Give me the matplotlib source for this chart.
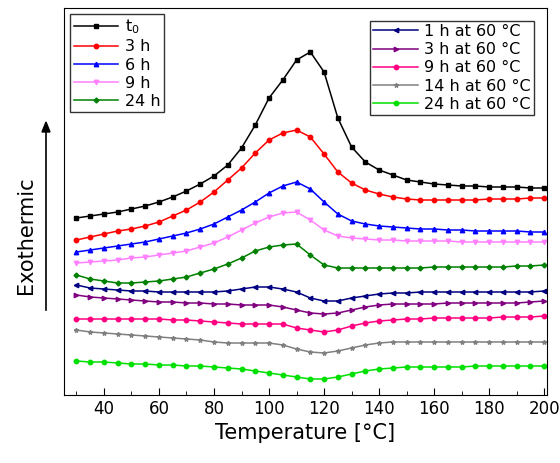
import matplotlib.pyplot as plt
import numpy as np

# temperature grid (°C) and curves (arb. units, screen-like: larger = lower)
temp = list(range(30, 201, 5))

t0 = [218, 216, 214, 212, 209, 206, 202, 197, 191, 184, 176, 165, 148, 125, 98, 80, 60, 52, 72, 118,
      147, 162, 170, 175, 180, 182, 184, 185, 186, 186, 187, 187, 187, 188, 188]
h3 = [240, 237, 234, 231, 229, 226, 222, 216, 210, 202, 192, 180, 168, 153, 140, 133, 130, 137, 154, 172,
      183, 190, 194, 197, 199, 200, 200, 200, 200, 200, 199, 199, 199, 198, 198]
h6 = [252, 250, 248, 246, 244, 242, 239, 236, 233, 229, 224, 217, 210, 202, 193, 186, 182, 189, 202, 214,
      221, 224, 226, 227, 228, 229, 229, 230, 230, 231, 231, 231, 231, 232, 232]
h9 = [263, 262, 261, 260, 258, 257, 255, 253, 251, 247, 243, 237, 230, 223, 217, 213, 212, 220, 230, 236,
      238, 239, 240, 240, 241, 241, 241, 241, 242, 242, 242, 242, 242, 242, 242]
h24 = [275, 279, 281, 283, 283, 282, 281, 279, 277, 273, 269, 264, 258, 251, 247, 245, 244, 255, 265, 268,
       268, 268, 268, 268, 268, 268, 267, 267, 267, 267, 267, 267, 266, 266, 265]
a1 = [285, 288, 289, 290, 291, 291, 292, 292, 292, 292, 292, 291, 289, 287, 287, 289, 292, 298, 301, 301,
      298, 296, 294, 293, 293, 292, 292, 292, 292, 292, 292, 292, 292, 292, 291]
a3 = [295, 297, 298, 299, 300, 301, 302, 302, 303, 303, 304, 304, 305, 305, 305, 307, 310, 313, 314, 313,
      310, 307, 305, 304, 304, 304, 304, 303, 303, 303, 303, 303, 303, 302, 301]
a9 = [319, 319, 319, 319, 319, 319, 319, 320, 320, 321, 322, 323, 324, 324, 324, 324, 328, 330, 332, 330,
      326, 323, 321, 320, 319, 319, 318, 318, 318, 318, 318, 317, 317, 317, 316]
a14 = [330, 332, 333, 334, 335, 336, 337, 338, 339, 340, 342, 343, 343, 343, 343, 345, 349, 352, 353, 351,
       348, 345, 343, 342, 342, 342, 342, 342, 342, 342, 342, 342, 342, 342, 342]
a24 = [361, 362, 362, 363, 364, 364, 365, 365, 366, 366, 367, 368, 369, 371, 373, 375, 377, 379, 379, 377,
       374, 371, 369, 368, 367, 367, 367, 367, 367, 366, 366, 366, 366, 366, 366]

series_left = [("$\\mathregular{t_0}$", t0, "black", "s"), ("3 h", h3, "red", "o"), ("6 h", h6, "blue", "^"),
               ("9 h", h9, "#ff80ff", "v"), ("24 h", h24, "#008000", "D")]
series_right = [("1 h at 60 °C", a1, "#000080", "<"), ("3 h at 60 °C", a3, "#800080", ">"),
                ("9 h at 60 °C", a9, "#ff0080", "o"), ("14 h at 60 °C", a14, "#808080", "*"),
                ("24 h at 60 °C", a24, "#00e000", "o")]

fig = plt.figure(figsize=(5.6, 4.63), dpi=100)
ax = fig.add_axes([64 / 560, 1 - 395 / 463, 483 / 560, 387 / 463])

h_left = []
for lab, y, c, m in series_left:
    ms = 2.5 if m == "D" else 3.2
    ln, = ax.plot(temp, y, color=c, marker=m, markersize=ms, linewidth=1.1, label=lab)
    h_left.append(ln)
h_right = []
for lab, y, c, m in series_right:
    ln, = ax.plot(temp, y, color=c, marker=m, markersize=3.2, linewidth=1.1, label=lab)
    h_right.append(ln)

ax.set_xlim(25.5, 201)
ax.set_ylim(395, 8)
ax.set_yticks([])
ax.set_xticks(range(40, 201, 20))
ax.set_xticks(range(30, 201, 10), minor=True)
ax.tick_params(axis='x', direction='in', labelsize=12, length=5)
ax.tick_params(axis='x', which='minor', direction='in', length=3)
ax.set_xlabel("Temperature [°C]", fontsize=15)

leg1 = ax.legend(handles=h_left, loc='upper left', fontsize=11.5, fancybox=False, edgecolor='black',
                 handlelength=2.8, labelspacing=0.2, borderaxespad=0.4, handletextpad=0.4, borderpad=0.2)
ax.add_artist(leg1)
ax.legend(handles=h_right, loc='upper right', fontsize=11.5, fancybox=False, edgecolor='black',
          handlelength=2.8, labelspacing=0.2, borderaxespad=0.8, handletextpad=0.4, borderpad=0.2)

fig.text(26 / 560, 1 - 235 / 463, "Exothermic", rotation=90, fontsize=15, ha='center', va='center')
fig.add_artist(plt.Line2D([46 / 560, 46 / 560], [1 - 310 / 463, 1 - 130 / 463], color='black', lw=1.2))
fig.patches.append(plt.Polygon([[42 / 560, 1 - 132 / 463], [50 / 560, 1 - 132 / 463], [46 / 560, 1 - 122 / 463]],
                               closed=True, color='black', transform=fig.transFigure, figure=fig))

fig.savefig("out.png", dpi=100)
